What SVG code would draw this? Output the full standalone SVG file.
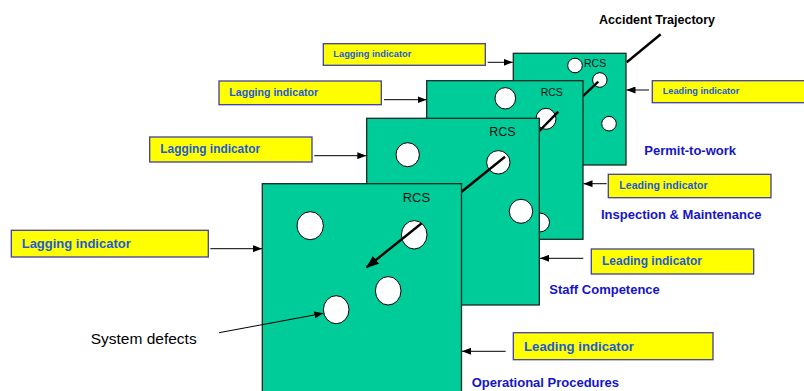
<svg xmlns="http://www.w3.org/2000/svg" width="804" height="391" viewBox="0 0 804 391">
<defs>
<style>
.panel{fill:#00cc99;stroke:#1a2a22;stroke-width:1.3}
.hole{fill:#ffffff;stroke:#000000;stroke-width:1}
.box{fill:#ffff00;stroke:#4040a0;stroke-width:1.3}
.ind{font-family:"Liberation Sans",Arial,sans-serif;font-weight:bold;fill:#1e5ad8}
.lab{font-family:"Liberation Sans",Arial,sans-serif;font-weight:bold;fill:#1414c8;font-size:13px}
.rcs{font-family:"Liberation Sans",Arial,sans-serif;fill:#111111}
.traj{stroke:#000000;stroke-width:2.4;fill:none;stroke-linecap:butt}
.arr{stroke:#000000;stroke-width:1;fill:none}
</style>
<marker id="ah" markerUnits="userSpaceOnUse" markerWidth="9" markerHeight="7" viewBox="0 0 9 7" refX="9" refY="3.5" orient="auto"><path d="M0,0 L9,3.5 L0,7 z" fill="#000"/></marker>
<marker id="ahb" markerUnits="userSpaceOnUse" markerWidth="13" markerHeight="10" viewBox="0 0 13 10" refX="12" refY="5" orient="auto"><path d="M0,0 L13,5 L0,10 z" fill="#000"/></marker>
</defs>
<rect width="804" height="391" fill="#ffffff"/>

<text x="599" y="24" font-family="Liberation Sans, Arial, sans-serif" font-weight="bold" font-size="12.5" fill="#000">Accident Trajectory</text>
<line class="traj" x1="626.7" y1="62.3" x2="660.7" y2="34.3"/>

<g id="panel-permit">
<rect class="panel" x="513.3" y="53.3" width="112.7" height="111.7"/>
<ellipse class="hole" cx="575" cy="65.5" rx="7.3" ry="7.3"/>
<ellipse class="hole" cx="599.8" cy="80" rx="7.2" ry="7.3"/>
<ellipse class="hole" cx="609" cy="123.7" rx="7.3" ry="7.3"/>
<text class="rcs" x="584" y="67.3" font-size="10.5">RCS</text>
<line class="traj" x1="598.3" y1="81.7" x2="572" y2="106.5"/>
<text class="lab" x="644.3" y="155">Permit-to-work</text>
</g>

<g id="panel-inspection">
<rect class="panel" x="426.7" y="80.7" width="156.3" height="158.6"/>
<ellipse class="hole" cx="505.3" cy="98.3" rx="10.3" ry="10.7"/>
<ellipse class="hole" cx="546" cy="118.8" rx="10" ry="10.5"/>
<ellipse class="hole" cx="539.5" cy="222.5" rx="10" ry="9.5"/>
<text class="rcs" x="540.7" y="95.7" font-size="10.5">RCS</text>
<line class="traj" x1="558.3" y1="111.7" x2="530" y2="140.5"/>
<text class="lab" x="601" y="219.3">Inspection &amp; Maintenance</text>
</g>

<g id="panel-staff">
<rect class="panel" x="366.7" y="118.3" width="172.6" height="186.7"/>
<ellipse class="hole" cx="407.7" cy="154.7" rx="11.7" ry="12"/>
<ellipse class="hole" cx="498.3" cy="162.3" rx="11.7" ry="11.7"/>
<ellipse class="hole" cx="521" cy="211.3" rx="11.7" ry="12"/>
<text class="rcs" x="489.3" y="136" font-size="12.5">RCS</text>
<line class="traj" x1="505" y1="156.7" x2="452" y2="199.5"/>
<text class="lab" x="549.3" y="294">Staff Competence</text>
</g>

<g id="panel-operational">
<rect class="panel" x="262.3" y="183.7" width="199.2" height="220"/>
<ellipse class="hole" cx="310.2" cy="225.7" rx="13.2" ry="14"/>
<ellipse class="hole" cx="414.2" cy="234.8" rx="12.8" ry="14.2"/>
<ellipse class="hole" cx="388.2" cy="290.8" rx="12.8" ry="14.2"/>
<ellipse class="hole" cx="336.2" cy="309.7" rx="12.8" ry="14"/>
<text class="rcs" x="402.7" y="201.7" font-size="13">RCS</text>
<text class="lab" x="471.7" y="387.3">Operational Procedures</text>
</g>

<g id="lag-1">
<rect class="box" x="323.3" y="43.7" width="162" height="21.6"/>
<text class="ind" x="333.3" y="57.3" font-size="9.3">Lagging indicator</text>
</g>
<g id="lag-2">
<rect class="box" x="219" y="81" width="162.3" height="23.7"/>
<text class="ind" x="229.3" y="96" font-size="10.6">Lagging indicator</text>
</g>
<g id="lag-3">
<rect class="box" x="149.7" y="137" width="162.3" height="25"/>
<text class="ind" x="160.3" y="153.3" font-size="11.9">Lagging indicator</text>
</g>
<g id="lag-4">
<rect class="box" x="11.3" y="230.3" width="197" height="26.7"/>
<text class="ind" x="21.7" y="248.3" font-size="13">Lagging indicator</text>
</g>

<g id="lead-1">
<rect class="box" x="652.3" y="80.7" width="162" height="22"/>
<text class="ind" x="662.7" y="94.3" font-size="9.2">Leading indicator</text>
</g>
<g id="lead-2">
<rect class="box" x="608.3" y="174.3" width="162.7" height="23.4"/>
<text class="ind" x="619.3" y="189.3" font-size="10.6">Leading indicator</text>
</g>
<g id="lead-3">
<rect class="box" x="591.3" y="249" width="162.4" height="25"/>
<text class="ind" x="602" y="265.3" font-size="12">Leading indicator</text>
</g>
<g id="lead-4">
<rect class="box" x="513.3" y="332.7" width="199.7" height="27"/>
<text class="ind" x="524" y="350.7" font-size="13.2">Leading indicator</text>
</g>

<g id="sysdef">
<text x="90.7" y="344" font-family="Liberation Sans, Arial, sans-serif" font-size="15.5" fill="#000">System defects</text>
</g>

<g id="connectors">
<line class="traj" x1="421.7" y1="223.3" x2="366.7" y2="267.3" marker-end="url(#ahb)"/>
<line class="arr" x1="219" y1="332.7" x2="323.3" y2="313.3" marker-end="url(#ah)"/>
<line class="arr" x1="487.7" y1="62.3" x2="512.7" y2="62.3" marker-end="url(#ah)"/>
<line class="arr" x1="384" y1="99.7" x2="426.5" y2="99.7" stroke="#666" marker-end="url(#ah)"/>
<line class="arr" x1="314.3" y1="155.7" x2="366.3" y2="155.7" marker-end="url(#ah)"/>
<line class="arr" x1="210.3" y1="248.7" x2="262" y2="248.7" marker-end="url(#ah)"/>
<line class="arr" x1="649" y1="90" x2="626.5" y2="90" marker-end="url(#ah)"/>
<line class="arr" x1="606.7" y1="183.7" x2="583.5" y2="183.7" marker-end="url(#ah)"/>
<line class="arr" x1="583.3" y1="258.3" x2="540" y2="258.3" marker-end="url(#ah)"/>
<line class="arr" x1="505.7" y1="351.3" x2="462" y2="351.3" marker-end="url(#ah)"/>
</g>
</svg>
